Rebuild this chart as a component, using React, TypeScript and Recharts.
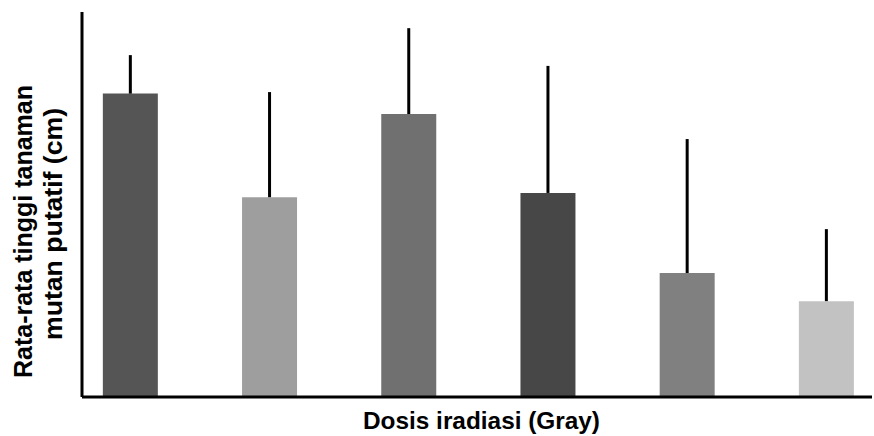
import React from 'react';
import { BarChart, Bar, XAxis, YAxis, ErrorBar, Cell } from 'recharts';

// Dosis (kategori) tanpa label pada sumbu
const doses = ['D1', 'D2', 'D3', 'D4', 'D5', 'D6'];
// Rata-rata tinggi (skala relatif, tanpa label tick)
const heights = [78.8, 51.9, 73.5, 53.0, 32.2, 24.9];
// Simpangan ke atas saja
const upperErrors = [10.0, 27.3, 22.3, 33.0, 34.8, 18.7];
const barColors = ['#555555', '#9e9e9e', '#707070', '#474747', '#808080', '#c2c2c2'];

const data = doses.map((dose, i) => ({
  dose,
  idx: i,
  height: heights[i],
  err: [0, upperErrors[i]],
}));

const font = '"Liberation Sans", Arial, sans-serif';

const YLabel = () => (
  <g fontFamily={font} fontWeight="bold" fontSize={25} fill="#000">
    <text
      transform="translate(32, 231.5) rotate(-90)"
      textAnchor="middle"
      textLength={293}
      lengthAdjust="spacingAndGlyphs"
    >
      Rata-rata tinggi tanaman
    </text>
    <text
      transform="translate(62, 224) rotate(-90)"
      textAnchor="middle"
      textLength={232}
      lengthAdjust="spacingAndGlyphs"
    >
      mutan putatif (cm)
    </text>
  </g>
);

const XLabel = () => (
  <text
    x={481.5}
    y={429}
    textAnchor="middle"
    fontFamily={font}
    fontWeight="bold"
    fontSize={24}
    fill="#000"
    textLength={237}
    lengthAdjust="spacingAndGlyphs"
  >
    Dosis iradiasi (Gray)
  </text>
);

const App = () => {
  return (
    <div style={{ width: 874, height: 436 }}>
      <style>{'body{margin:0}'}</style>
      <BarChart
        width={874}
        height={436}
        data={data}
        margin={{ top: 12, right: 2, left: 0, bottom: 0 }}
      >
        <XAxis
          dataKey="idx"
          type="number"
          domain={[-0.348, 5.327]}
          allowDataOverflow
          tick={false}
          tickLine={false}
          axisLine={{ stroke: '#000', strokeWidth: 3 }}
          height={39}
          label={{ content: () => <XLabel /> }}
        />
        <YAxis
          domain={[0, 100]}
          allowDataOverflow
          tick={false}
          tickLine={false}
          width={82}
          axisLine={{ stroke: '#000', strokeWidth: 3 }}
          label={{ content: () => <YLabel /> }}
        />
        <Bar dataKey="height" barSize={55} isAnimationActive={false}>
          {data.map((d, i) => (
            <Cell key={d.dose} fill={barColors[i]} />
          ))}
          <ErrorBar
            dataKey="err"
            width={0}
            stroke="#000"
            strokeWidth={3}
            direction="y"
            isAnimationActive={false}
          />
        </Bar>
      </BarChart>
    </div>
  );
};

export default App;
